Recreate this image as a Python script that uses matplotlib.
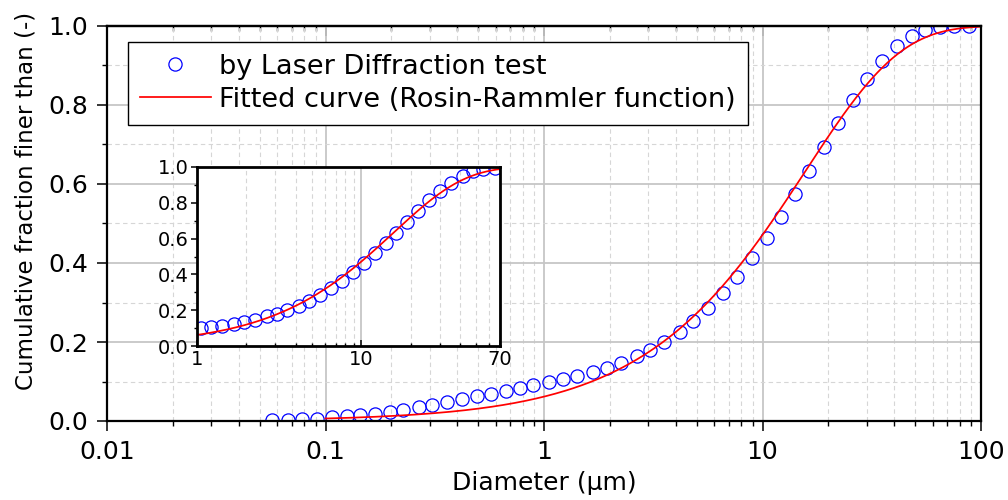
import numpy as np
import matplotlib.pyplot as plt
from matplotlib.ticker import FixedLocator, FixedFormatter, NullFormatter, LogLocator, MultipleLocator

# Laser diffraction result (diameter in um, cumulative fraction)
diameter = [0.0571, 0.0675, 0.0783, 0.0911, 0.1074, 0.1250, 0.1438, 0.1685, 0.1973, 0.2271,
            0.2679, 0.3083, 0.3587, 0.4201, 0.4920, 0.5705, 0.6680, 0.7767, 0.8934, 1.0575,
            1.2254, 1.4206, 1.6810, 1.9364, 2.2439, 2.6569, 3.0554, 3.5531, 4.1930, 4.8240,
            5.648, 6.576, 7.668, 8.925, 10.45, 12.15, 14.08, 16.38, 19.12, 22.23,
            26.04, 30.00, 35.34, 41.40, 48.18, 55.42, 64.93, 75.21, 88.44]
finer = [0.002, 0.003, 0.004, 0.005, 0.009, 0.012, 0.014, 0.018, 0.023, 0.028,
         0.035, 0.041, 0.047, 0.056, 0.063, 0.068, 0.077, 0.084, 0.090, 0.099,
         0.1055, 0.114, 0.125, 0.135, 0.148, 0.165, 0.181, 0.201, 0.225, 0.254,
         0.287, 0.325, 0.365, 0.413, 0.463, 0.517, 0.574, 0.632, 0.694, 0.755,
         0.813, 0.866, 0.912, 0.949, 0.975, 0.990, 0.997, 0.999, 1.000]

# Rosin-Rammler fit parameters
rr_d63 = 15.7
rr_n = 1.0
fit_range_main = (0.1, 100)
fit_range_inset = (1, 70)

main_ticks = [0.01, 0.1, 1, 10, 100]
main_tick_labels = ['0.01', '0.1', '1', '10', '100']
inset_ticks = [1, 10, 70]
inset_tick_labels = ['1', '10', '70']

plt.rcParams['font.family'] = ['DejaVu Sans']

BLUE = '#0000ff'
RED = '#ff0000'
MAJ_GRID = '#c6c6c6'
MIN_GRID = '#d6d6d6'


def rosin_rammler(d):
    return 1.0 - np.exp(-(np.asarray(d) / rr_d63) ** rr_n)


def draw_data(axx, dlo, dhi, ms):
    axx.plot(diameter, finer, 'o', mfc='none', mec=BLUE, ms=ms, mew=0.9,
             label='by Laser Diffraction test')
    dfit = np.logspace(np.log10(dlo), np.log10(dhi), 400)
    axx.plot(dfit, rosin_rammler(dfit), '-', color=RED, lw=1.25,
             label='Fitted curve (Rosin-Rammler function)')


fig = plt.figure(figsize=(10.08, 5), dpi=100)

#************** Main axes **************
ax = fig.add_axes([107 / 1008, 79 / 500, 874 / 1008, 395 / 500])
ax.set_xscale('log')
ax.set_axisbelow(True)
ax.grid(which='major', color=MAJ_GRID, lw=1.3, ls='-')
ax.grid(which='minor', color=MIN_GRID, lw=0.8, ls=(0, (4, 3)))

draw_data(ax, fit_range_main[0], fit_range_main[1], 9.5)

ax.set_xlim(0.01, 100)
ax.set_ylim(0, 1)
ax.xaxis.set_major_locator(FixedLocator(main_ticks))
ax.xaxis.set_major_formatter(FixedFormatter(main_tick_labels))
ax.xaxis.set_minor_locator(LogLocator(base=10, subs=np.arange(2, 10)))
ax.xaxis.set_minor_formatter(NullFormatter())
ax.yaxis.set_major_locator(MultipleLocator(0.2))
ax.yaxis.set_minor_locator(MultipleLocator(0.1))
ax.yaxis.set_major_formatter(lambda v, p: '%.1f' % v)

ax.tick_params(which='major', direction='out', length=7, width=1.1, labelsize=18, pad=6.5)
ax.tick_params(which='minor', direction='out', length=3.5, width=1.0)
ax.tick_params(axis='x', which='major', pad=7)
for s in ax.spines.values():
    s.set_linewidth(1.6)

# top axis has inward ticks only
top = ax.secondary_xaxis('top', functions=(lambda v: v, lambda v: v))
top.xaxis.set_major_locator(FixedLocator(main_ticks))
top.xaxis.set_minor_locator(LogLocator(base=10, subs=np.arange(2, 10)))
top.xaxis.set_major_formatter(NullFormatter())
top.xaxis.set_minor_formatter(NullFormatter())
top.tick_params(which='major', direction='in', length=7, width=1.1)
top.tick_params(which='minor', direction='in', length=3.5, width=1.0)
top.spines['top'].set_linewidth(1.6)

ax.set_xlabel('Diameter (\u03bcm)', fontsize=18, labelpad=5)
ax.set_ylabel('Cumulative fraction finer than (-)', fontsize=16.5)
ax.yaxis.set_label_coords(-0.0795, 0.557)

leg = ax.legend(loc='upper left', bbox_to_anchor=(128 / 1008, 1 - 41.7 / 500),
                bbox_transform=fig.transFigure, borderaxespad=0, fontsize=19.5,
                handlelength=2.6, handletextpad=0.3, borderpad=0.45,
                labelspacing=0.25, fancybox=False, framealpha=1.0)
leg.get_frame().set_edgecolor('black')
leg.get_frame().set_linewidth(1.0)

#************** Inset axes **************
axin = fig.add_axes([197 / 1008, (500 - 346) / 500, 303 / 1008, 179 / 500])
axin.set_zorder(3)
axin.set_facecolor('white')
axin.set_xscale('log')
axin.set_axisbelow(True)
axin.grid(axis='x', which='major', color=MAJ_GRID, lw=1.3, ls='-')
axin.grid(axis='x', which='minor', color=MIN_GRID, lw=0.8, ls=(0, (4, 3)))

draw_data(axin, fit_range_inset[0], fit_range_inset[1], 9.5)

axin.set_xlim(1, 70)
axin.set_ylim(0, 1)
axin.xaxis.set_major_locator(FixedLocator(inset_ticks))
axin.xaxis.set_major_formatter(FixedFormatter(inset_tick_labels))
axin.xaxis.set_minor_locator(LogLocator(base=10, subs=np.arange(2, 10)))
axin.xaxis.set_minor_formatter(NullFormatter())
axin.yaxis.set_major_locator(MultipleLocator(0.2))
axin.yaxis.set_minor_locator(MultipleLocator(0.1))
axin.yaxis.set_major_formatter(lambda v, p: '%.1f' % v)
axin.tick_params(which='major', direction='out', length=4.3, width=1.1, labelsize=14, pad=2)
axin.tick_params(which='minor', direction='out', length=2.5, width=1.0)
axin.tick_params(axis='x', which='both', direction='in', pad=3)
for s in axin.spines.values():
    s.set_linewidth(2.0)

fig.savefig('out.png', dpi=100)
plt.close()
